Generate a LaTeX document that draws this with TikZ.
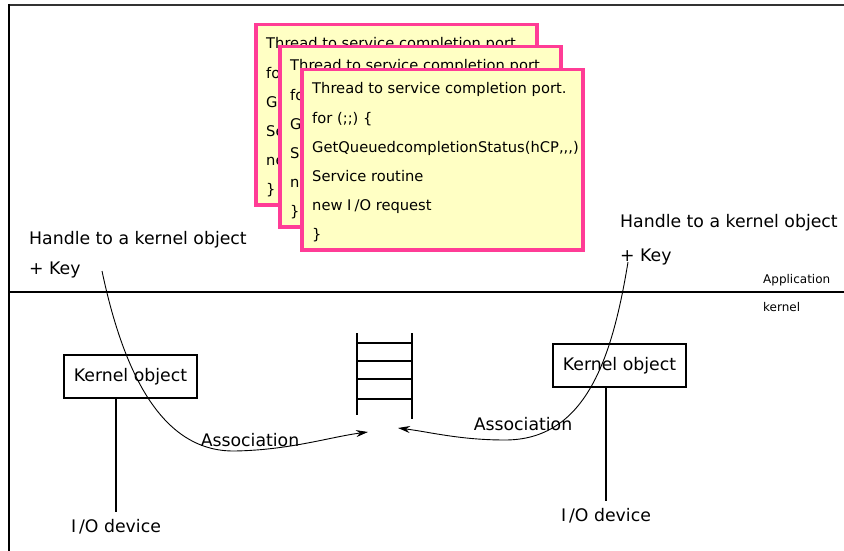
\documentclass[tikz,border=0pt]{standalone}
\usepackage{fontspec}
\setmainfont{DejaVu Sans}
\usetikzlibrary{arrows.meta,calc}
\definecolor{cardpink}{HTML}{FF3C96}
\definecolor{cardfill}{HTML}{FFFFC4}
\definecolor{framegray}{HTML}{333333}
\begin{document}
\begin{tikzpicture}[x=1pt,y=-1pt,
  card/.style={draw=cardpink,fill=cardfill,line width=3.5pt,minimum width=281pt,minimum height=180pt,anchor=north west,inner sep=0pt},
  cardtext/.style={anchor=base west,inner sep=0pt,font=\fontsize{14.7}{17}\selectfont},
  lbl/.style={inner sep=0pt,font=\fontsize{17.3}{20}\selectfont},
  small/.style={inner sep=0pt,font=\fontsize{12}{14}\selectfont,anchor=west},
  kbox/.style={draw,line width=1.1pt,minimum width=133pt,minimum height=43pt,inner sep=0pt,font=\fontsize{17.3}{20}\selectfont},
  conn/.style={line width=0.9pt},
  arr/.style={line width=0.9pt,-{Stealth[length=12pt,width=7pt]}}
]
\useasboundingbox (0,0) rectangle (844,551);
% frame
\draw[framegray,line width=2pt] (9,5) -- (844,5);
\draw[black,line width=2pt] (9,4) -- (9,551);
\draw[black,line width=2pt] (9,292) -- (844,292);

% cards
\foreach \n/\cx/\cy in {1/254/23, 2/278/45, 3/300/68}{
  \node[card] (card\n) at (\cx,\cy) {};
  \node[cardtext] (card\n l1) at ($(card\n.north west)+(12,26)$) {Thread to service completion port.};
  \node[cardtext] (card\n l2) at ($(card\n.north west)+(12,55)$) {for (;;) \{};
  \node[cardtext] (card\n l3) at ($(card\n.north west)+(12,84)$) {GetQueuedcompletionStatus(hCP{,}{,}{,})};
  \node[cardtext] (card\n l4) at ($(card\n.north west)+(12,113)$) {Service routine};
  \node[cardtext] (card\n l5) at ($(card\n.north west)+(12,142)$) {new I\kern3pt/O request};
  \node[cardtext] (card\n l6) at ($(card\n.north west)+(12,171)$) {\}};
}

% handle labels
\node[lbl,anchor=west] (h1) at (29,240) {Handle to a kernel object};
\node[lbl,anchor=west] (k1) at (29,270) {+ Key};
\node[lbl,anchor=west] (h2) at (620,223) {Handle to a kernel object};
\node[lbl,anchor=west] (k2) at (620,257) {+ Key};
\node[small] (app) at (763,280) {Application};
\node[small] (kern) at (763,307) {kernel};

% kernel objects
\node[kbox] (kb1) at (130.5,376.5) {Kernel object};
\node[kbox] (kb2) at (619.5,365.5) {Kernel object};
\node[lbl] (io1) at (116,527) {I\kern3pt/O device};
\node[lbl] (io2) at (606,516) {I\kern3pt/O device};
\draw[line width=1.1pt] (kb1.south -| io1.north) -- ([yshift=7pt]io1.north);
\draw[line width=1.1pt] (kb2.south -| io2.north) -- ([yshift=7pt]io2.north);

% queue
\draw[line width=1.4pt] (357,333) -- (357,415);
\draw[line width=1.4pt] (412,333) -- (412,419);
\foreach \yy in {343,361,379,399}{
  \draw[line width=1.2pt] (357,\yy) -- (412,\yy);
}
\coordinate (qa) at (368,432);
\coordinate (qb) at (398,428);
\coordinate (s1) at (102,271);
\coordinate (s2) at (628,262);

% association curves
\draw[arr] (s1) .. controls (125,380) and (165,452) .. (235,451)
  .. controls (290,450) and (330,437) .. (qa);
\draw[arr] (s2) .. controls (612,360) and (585,440) .. (505,440)
  .. controls (460,440) and (430,432) .. (qb);
\node[lbl] (as1) at (250,440) {Association};
\node[lbl] (as2) at (523,424) {Association};
\end{tikzpicture}
\end{document}
